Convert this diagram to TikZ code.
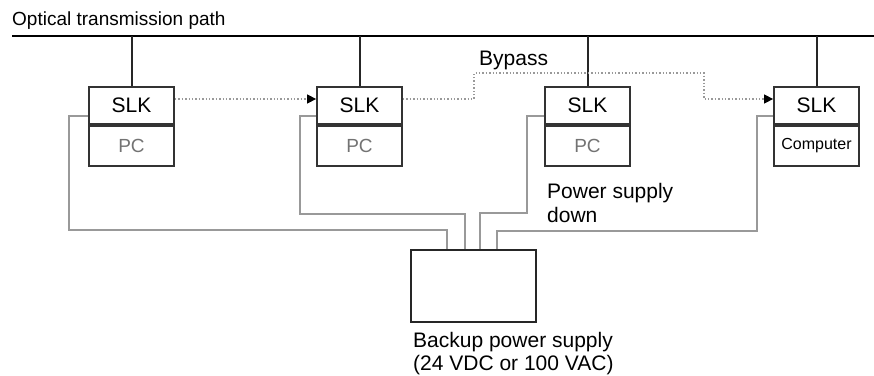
\documentclass[tikz,border=0pt]{standalone}
\usepackage{fontspec}
\setmainfont{Liberation Sans}
\usetikzlibrary{arrows.meta,calc}
\begin{document}
\begin{tikzpicture}[x=1pt,y=-1pt,
  slk/.style={draw=black!80,line width=1.8pt,minimum width=85pt,minimum height=37pt,inner sep=0pt,font=\fontsize{21}{23}\selectfont},
  pcb/.style={draw=black!80,line width=1.8pt,minimum width=85pt,minimum height=40pt,inner sep=0pt,text=black!55,font=\fontsize{19}{21}\selectfont},
  pwr/.style={draw=black!40,line width=1.4pt},
  byp/.style={draw=black!40,line width=1.4pt,dotted,-{Triangle[length=9pt,width=9pt,black]}},
  feed/.style={draw=black!85,line width=2pt},
  lbl/.style={anchor=base west,inner sep=0pt,font=\fontsize{21}{23}\selectfont}]
\useasboundingbox (0,0) rectangle (874,375);
% optical path
\coordinate (L) at (12,36);
\coordinate (R) at (874,36);
\draw[black,line width=2.4pt] (L) -- (R);
\node[lbl,font=\fontsize{19}{21}\selectfont] (title) at (12,25) {Optical transmission path};
% units
\node[slk] (s1) at (131.5,105.5) {SLK};
\node[pcb,anchor=north] (p1) at (s1.south) {PC};
\node[slk] (s2) at (359.5,105.5) {SLK};
\node[pcb,anchor=north] (p2) at (s2.south) {PC};
\node[slk] (s3) at (587.5,105.5) {SLK};
\node[pcb,anchor=north] (p3) at (s3.south) {PC};
\node[slk] (s4) at (816.5,105.5) {SLK};
\node[pcb,anchor=north,text=black,font=\fontsize{16}{18}\selectfont] (p4) at (s4.south) {Computer};
% feeds from optical path
\foreach \n in {s1,s2,s3,s4}{\draw[feed] (\n.north) -- (\n.north |- L);}
% signal arrows
\draw[byp] ([yshift=6.5pt]s1.east) -- ([yshift=6.5pt]s2.west);
\coordinate (b1) at (474,73);
\coordinate (b2) at (704,99);
\draw[byp] ([yshift=6.5pt]s2.east) -| (b1) -| (b2) -- ([yshift=6.5pt]s4.west);
\node[lbl] (bypass) at (479,65) {Bypass};
% power supply
\node[draw=black!85,line width=2.2pt,minimum width=125pt,minimum height=72pt,inner sep=0pt] (ps) at (473.5,286) {};
\coordinate (k1) at (69,230);
\coordinate (k2) at (300,214);
\coordinate (k3) at (527,213);
\coordinate (k4) at (757,231);
\draw[pwr] ([yshift=9pt]s1.south west) -| (k1) -| ([xshift=-26.5pt]ps.north);
\draw[pwr] ([yshift=9pt]s2.south west) -| (k2) -| ([xshift=-8.5pt]ps.north);
\draw[pwr] ([yshift=9pt]s3.south west) -| (k3) -| ([xshift=6.5pt]ps.north);
\draw[pwr] ([yshift=9pt]s4.south west) -| (k4) -| ([xshift=23.5pt]ps.north);
\node[lbl] (down1) at (547,198) {Power supply};
\node[lbl] (down2) at (547,222) {down};
\node[lbl] (bk1) at (413,347) {Backup power supply};
\node[lbl] (bk2) at (413,370) {(24 VDC or 100 VAC)};
\end{tikzpicture}
\end{document}
